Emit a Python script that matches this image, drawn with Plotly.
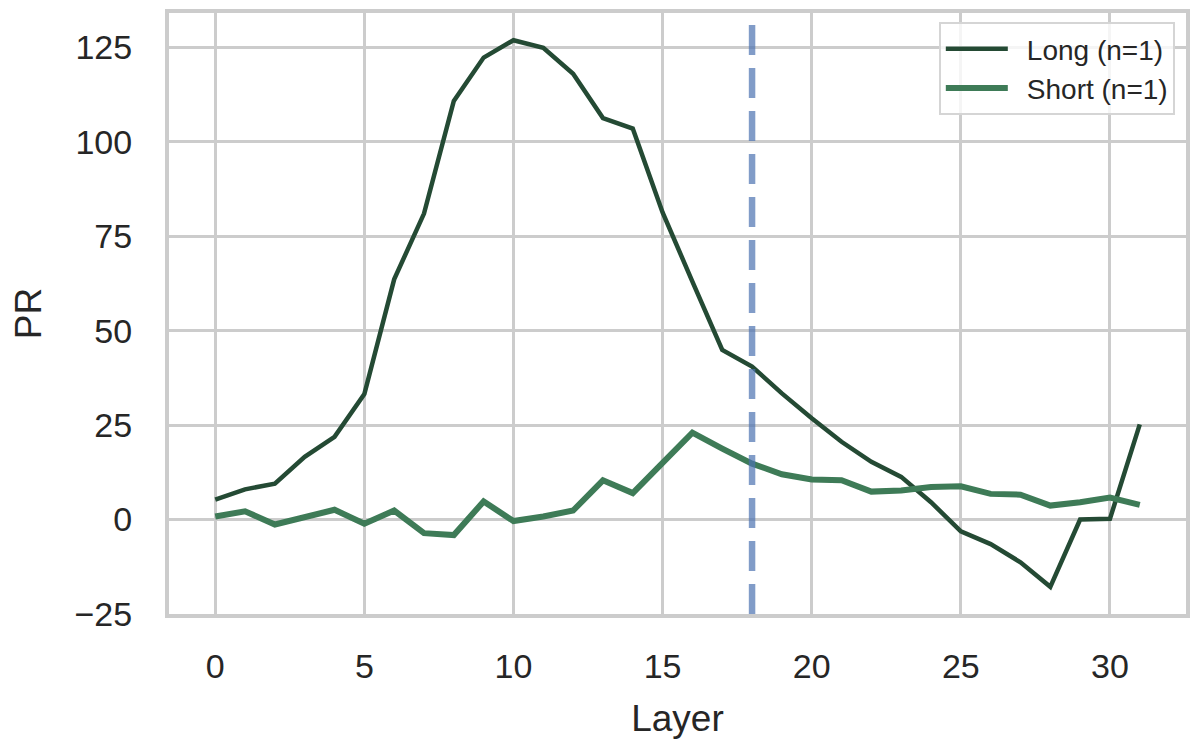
import plotly.graph_objects as go

layers = list(range(32))
long_pr = [5.3, 8.0, 9.5, 16.6, 21.9, 33.2, 63.6, 81.0, 110.8, 122.3, 126.9, 124.9,
           118.0, 106.3, 103.5, 81.3, 63.0, 44.9, 40.5, 33.4, 26.8, 20.6, 15.3, 11.3,
           4.6, -3.1, -6.5, -11.3, -17.8, 0.0, 0.2, 25.2]
short_pr = [0.8, 2.2, -1.3, 0.6, 2.6, -1.1, 2.4, -3.6, -4.1, 4.8, -0.4, 0.8, 2.4,
            10.4, 7.0, 15.0, 23.0, 18.8, 14.8, 12.0, 10.6, 10.4, 7.4, 7.7, 8.6, 8.8,
            6.8, 6.6, 3.7, 4.6, 5.8, 3.9]
series_names = ["Long (n=1)", "Short (n=1)"]
split_layer = 18
x_ticks = [0, 5, 10, 15, 20, 25, 30]
y_ticks = [-25, 0, 25, 50, 75, 100, 125]

FONT = "Liberation Sans, Arial, sans-serif"
TXT = "#262626"
GRID = "#cccccc"
PAD = "\u2002"  # small visual gap between legend line and label

fig = go.Figure()
fig.add_trace(go.Scatter(x=layers, y=long_pr, mode="lines", name=PAD + series_names[0],
                         line=dict(color="#244a34", width=4.5)))
fig.add_trace(go.Scatter(x=layers, y=short_pr, mode="lines", name=PAD + series_names[1],
                         line=dict(color="#3e7b57", width=6)))

fig.add_shape(type="line", xref="x", yref="paper", x0=split_layer, x1=split_layer,
              y0=0, y1=1, line=dict(color="rgba(76,114,176,0.7)", width=6.5, dash="30px,13px"))

fig.update_layout(
    width=1184, height=734,
    margin=dict(l=161, r=6, t=5, b=128),
    paper_bgcolor="white", plot_bgcolor="white",
    font=dict(family=FONT, color=TXT),
    showlegend=True,
    legend=dict(x=0.989, y=0.985, xanchor="right", yanchor="top",
                bgcolor="rgba(255,255,255,0.8)", bordercolor="#d5d5d5", borderwidth=2,
                font=dict(size=28, family=FONT, color=TXT), tracegroupgap=0,
                itemwidth=62),
)
fig.update_xaxes(range=[-1.55, 32.55], tickvals=x_ticks, showgrid=True, gridcolor=GRID,
                 gridwidth=3, zeroline=False, showline=True, mirror=True, linecolor=GRID,
                 linewidth=4, ticks="", ticklabelstandoff=19, automargin=False,
                 tickfont=dict(size=34, family=FONT, color=TXT),
                 title=dict(text="Layer", font=dict(size=37, family=FONT, color=TXT), standoff=22))
fig.update_yaxes(range=[-25.0, 134.1], tickvals=y_ticks, showgrid=True, gridcolor=GRID,
                 gridwidth=3, zeroline=False, showline=True, mirror=True, linecolor=GRID,
                 linewidth=4, ticks="", ticklabelstandoff=26, automargin=False,
                 tickfont=dict(size=34, family=FONT, color=TXT),
                 title=dict(text="PR", font=dict(size=37, family=FONT, color=TXT), standoff=28))

fig.write_html("out.html")
